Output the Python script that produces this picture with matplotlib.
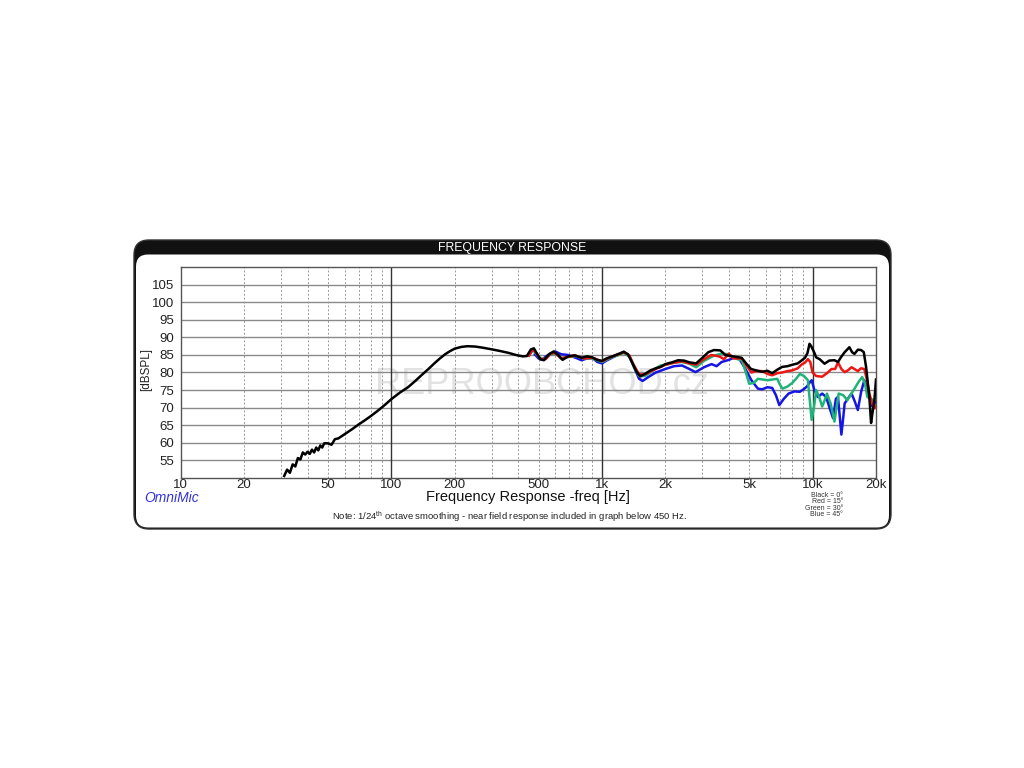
"""
frequency response plot, OmniMic style, four off-axis angles
"""
import matplotlib
matplotlib.use("Agg")
import matplotlib.pyplot as plt
from matplotlib.patches import FancyBboxPatch

plt.rcParams['font.family'] = ['Liberation Sans', 'DejaVu Sans']
plt.rcParams['mathtext.default'] = 'regular'

# black = 0 deg (includes near field below 450 Hz)
black_f = [31, 32, 33, 34, 35, 36, 37, 38, 39, 40, 41, 42, 43, 44, 45, 46, 47, 48, 50, 52,
           54, 56, 58, 60, 65, 70, 75, 80, 85, 90, 95, 100, 110, 120, 130, 140, 150, 160, 170,
           180, 190, 200, 215, 230, 250, 270, 300, 330, 360, 390, 420, 440, 460, 475, 490, 510,
           530, 560, 590, 620, 650, 690, 740, 800, 850, 900, 950, 1000, 1050, 1120, 1200, 1270,
           1330, 1400, 1460, 1520, 1600, 1700, 1800, 1900, 2000, 2150, 2300, 2450, 2600, 2800,
           3000, 3200, 3400, 3650, 3850, 4000, 4300, 4600, 4850, 5100, 5400, 5760, 6100, 6430,
           6800, 7170, 7600, 8000, 8500, 8900, 9200, 9450, 9670, 9850, 10000, 10200, 10400,
           10800, 11400, 12000, 12700, 13200, 13650, 14200, 14950, 15400, 15800, 16400, 17000,
           17500, 17950, 18300, 18600, 18950, 19300, 19650, 20000]
black_db = [50.5, 52.3, 51.4, 53.8, 53.2, 55.6, 55.2, 57.2, 56.6, 57.4, 56.8, 58.0, 57.2, 58.6,
            57.8, 59.2, 58.6, 59.8, 59.8, 59.4, 61.0, 61.2, 61.8, 62.4, 63.8, 65.2, 66.4, 67.6,
            68.8, 70.0, 71.2, 72.4, 74.3, 75.8, 77.6, 79.4, 81.0, 82.6, 84.0, 85.2, 86.1, 86.8,
            87.3, 87.5, 87.4, 87.1, 86.6, 86.1, 85.6, 85.0, 84.6, 84.7, 86.6, 86.9, 85.5, 83.8,
            83.5, 85.2, 86.0, 85.0, 83.6, 84.6, 84.9, 84.2, 84.6, 84.3, 83.6, 83.3, 84.0, 84.6,
            85.3, 85.9, 85.2, 82.5, 80.2, 78.9, 79.6, 80.6, 81.2, 81.6, 82.4, 82.9, 83.5, 83.4,
            82.9, 82.6, 84.2, 85.8, 86.4, 86.3, 85.0, 84.8, 84.5, 84.2, 82.5, 81.0, 80.6, 80.2,
            80.5, 79.8, 80.8, 81.6, 81.8, 82.2, 82.6, 83.5, 84.2, 85.5, 88.2, 87.5, 86.7, 85.6,
            84.3, 83.8, 82.5, 83.4, 83.5, 83.0, 84.4, 85.8, 87.2, 85.8, 85.3, 86.5, 86.4, 85.8,
            81.5, 77.0, 73.0, 65.6, 69.0, 72.1, 78.0]

# red = 15 deg
red_f = [450, 470, 490, 510, 540, 570, 600, 640, 690, 750, 820, 900, 1000, 1100, 1200, 1270,
         1350, 1420, 1500, 1600, 1700, 1800, 2000, 2200, 2400, 2600, 2800, 3000, 3300, 3600,
         3800, 4000, 4200, 4625, 4850, 5120, 5400, 5760, 6100, 6430, 6800, 7170, 7600, 8000,
         8500, 8920, 9200, 9500, 9750, 10000, 10400, 11100, 11700, 12300, 12800, 13200, 13700,
         14200, 14700, 15300, 15800, 16400, 17000, 17600, 18100, 18600, 19100, 19650, 20000]
red_db = [84.8, 86.6, 85.4, 83.9, 83.8, 85.4, 85.6, 84.0, 84.5, 84.8, 84.0, 84.2, 83.2, 84.4,
          85.2, 85.8, 84.8, 82.0, 79.5, 79.4, 80.3, 81.0, 82.2, 82.8, 83.2, 82.6, 82.2, 83.5,
          85.0, 84.6, 83.8, 85.4, 84.0, 84.0, 82.0, 80.0, 80.4, 80.4, 79.6, 79.2, 79.8, 80.0,
          80.4, 80.6, 81.2, 82.4, 82.8, 83.8, 83.0, 80.0, 79.0, 78.8, 79.8, 81.0, 81.0, 82.9,
          81.0, 80.1, 80.6, 81.5, 81.0, 80.4, 81.2, 81.0, 78.0, 74.0, 71.5, 69.8, 70.5]

# green = 30 deg
green_f = [450, 470, 490, 510, 540, 570, 600, 640, 690, 750, 820, 900, 1000, 1100, 1200, 1270,
           1350, 1420, 1500, 1600, 1700, 1800, 1900, 2000, 2200, 2400, 2600, 2800, 3050, 3400,
           3700, 3980, 4300, 4625, 4850, 5000, 5250, 5500, 5800, 6100, 6450, 6800, 7000, 7200,
           7600, 8000, 8350, 8700, 9100, 9500, 9700, 9900, 10150, 10400, 10750, 11100, 11400,
           11700, 12200, 12700, 13000, 13300, 14000, 14600, 15300, 16000, 16600, 17200, 17700,
           18200, 18900, 19650, 20000]
green_db = [84.8, 86.4, 85.2, 84.0, 83.9, 85.2, 85.4, 84.1, 84.4, 84.7, 84.0, 84.0, 83.0, 84.2,
            85.0, 85.6, 84.5, 81.5, 79.0, 79.0, 80.0, 81.2, 82.0, 82.2, 82.8, 83.0, 82.5, 81.5,
            83.3, 84.8, 85.4, 85.2, 84.0, 83.4, 79.5, 76.8, 77.0, 78.2, 78.0, 77.8, 78.0, 78.2,
            76.5, 75.4, 76.0, 77.0, 78.2, 79.6, 79.0, 77.8, 72.0, 66.5, 70.0, 75.0, 73.0, 70.3,
            72.0, 74.0, 71.0, 66.0, 70.0, 74.0, 73.5, 72.1, 74.0, 75.9, 77.5, 78.7, 77.0, 73.0,
            72.5, 72.0, 72.5]

# blue = 45 deg
blue_f = [480, 500, 520, 540, 570, 600, 640, 690, 750, 800, 850, 900, 950, 1000, 1050, 1150,
          1270, 1350, 1420, 1500, 1560, 1650, 1800, 2000, 2200, 2400, 2600, 2780, 3050, 3315,
          3500, 3700, 4000, 4270, 4500, 4750, 5000, 5120, 5500, 5760, 6100, 6430, 6700, 6950,
          7300, 7700, 8200, 8700, 9100, 9400, 9700, 9900, 10200, 10600, 11100, 11600, 12100,
          12500, 12900, 13200, 13700, 14000, 14200, 14700, 15300, 15800, 16400, 17000, 17600,
          18100, 18600, 19100, 19650, 20000]
blue_db = [85.2, 84.0, 83.6, 84.5, 85.4, 86.0, 85.2, 85.0, 84.2, 83.5, 84.0, 84.2, 83.0, 82.6,
           83.4, 84.6, 85.9, 84.6, 81.5, 78.2, 77.6, 78.6, 80.0, 81.0, 81.8, 82.0, 81.0, 80.1,
           81.5, 82.4, 81.8, 83.0, 83.6, 84.3, 83.8, 81.5, 79.0, 77.8, 75.4, 75.2, 75.8, 75.6,
           73.5, 70.7, 72.5, 74.0, 74.6, 74.5, 75.3, 76.0, 77.2, 77.8, 75.0, 73.0, 74.0, 73.0,
           69.5, 67.0, 72.5, 73.0, 62.3, 67.5, 71.2, 72.5, 74.0, 72.0, 69.3, 74.5, 77.8, 76.0,
           73.0, 70.5, 71.0, 72.0]

xticks = [10, 20, 50, 100, 200, 500, 1000, 2000, 5000, 10000, 20000]
xlabels = ['10', '20', '50', '100', '200', '500', '1k', '2k', '5k', '10k', '20k']
decades = [100, 1000, 10000]
minor_grid = [20, 30, 40, 50, 60, 70, 80, 90, 200, 300, 400, 500, 600, 700, 800, 900,
              2000, 3000, 4000, 5000, 6000, 7000, 8000, 9000]
yticks = [55, 60, 65, 70, 75, 80, 85, 90, 95, 100, 105]

fig = plt.figure(figsize=(10.24, 7.68), dpi=100)

# background panel in pixel coords
bg = fig.add_axes([0, 0, 1, 1], zorder=0)
bg.set_xlim(0, 1024)
bg.set_ylim(768, 0)
bg.axis('off')
bg.add_patch(FancyBboxPatch((134, 240), 757, 289, boxstyle="round,pad=0,rounding_size=15",
                            fc='#111111', ec='#333333', lw=1))
bg.add_patch(FancyBboxPatch((136, 254.5), 753, 273, boxstyle="round,pad=0,rounding_size=12",
                            fc='white', ec='none'))
bg.text(512, 247.5, 'FREQUENCY RESPONSE', color='white', fontsize=8.8, ha='center', va='center')

ax = fig.add_axes([180.7 / 1024, 1 - 477.7 / 768, 695.3 / 1024, 210.4 / 768], zorder=1)
ax.set_xscale('log')
ax.set_xlim(10, 20000)
ax.set_ylim(50, 110)

for y in yticks:
    ax.axhline(y, color='#8a8a8a', lw=1.0, zorder=1)
for f in minor_grid:
    ax.axvline(f, color='#9a9a9a', lw=0.7, ls=(0, (2, 2)), zorder=1)
for f in decades:
    ax.axvline(f, color='#333333', lw=1.0, zorder=1)

# watermark
ax.text(0.52, 0.445, 'REPROOBCHOD.cz', transform=ax.transAxes, fontsize=26, color='#e2e2e2',
        ha='center', va='center', zorder=0.5)

ax.plot(blue_f, blue_db, color='#1515e6', lw=1.8, zorder=3)
ax.plot(green_f, green_db, color='#1fb37a', lw=1.8, zorder=3)
ax.plot(red_f, red_db, color='#ee1515', lw=1.8, zorder=3)
ax.plot(black_f, black_db, color='black', lw=1.8, zorder=4)

ax.set_xticks(xticks)
ax.set_xticklabels(xlabels)
ax.xaxis.set_minor_locator(matplotlib.ticker.NullLocator())
ax.set_yticks(yticks)
ax.tick_params(axis='both', length=0, labelsize=9.5, colors='#222222')
ax.tick_params(axis='x', pad=1)
ax.tick_params(axis='y', pad=5)
for s in ax.spines.values():
    s.set_color('#555555')
    s.set_linewidth(1.0)

fig.text(146 / 1024, 1 - 370 / 768, '[dBSPL]', fontsize=8.5, rotation=90, ha='center',
         va='center', color='#222222')
fig.text(528 / 1024, 1 - 497.5 / 768, 'Frequency Response -freq [Hz]', fontsize=10.5,
         ha='center', va='center', color='#111111')
fig.text(172 / 1024, 1 - 498 / 768, 'OmniMic', color='#3333dd', fontsize=10, style='italic',
         ha='center', va='center')
fig.text(510 / 1024, 1 - 517 / 768,
         'Note: 1/24$^{th}$ octave smoothing - near field response included in graph below 450 Hz.',
         fontsize=6.8, ha='center', va='center', color='#222222')
legend_lines = ['Black = 0°', 'Red = 15°', 'Green = 30°', 'Blue = 45°']
for i, t in enumerate(legend_lines):
    fig.text(843 / 1024, 1 - (495.5 + 6.3 * i) / 768, t, fontsize=5, ha='right', va='center',
             color='#333333')

fig.savefig('out.png', dpi=100)
